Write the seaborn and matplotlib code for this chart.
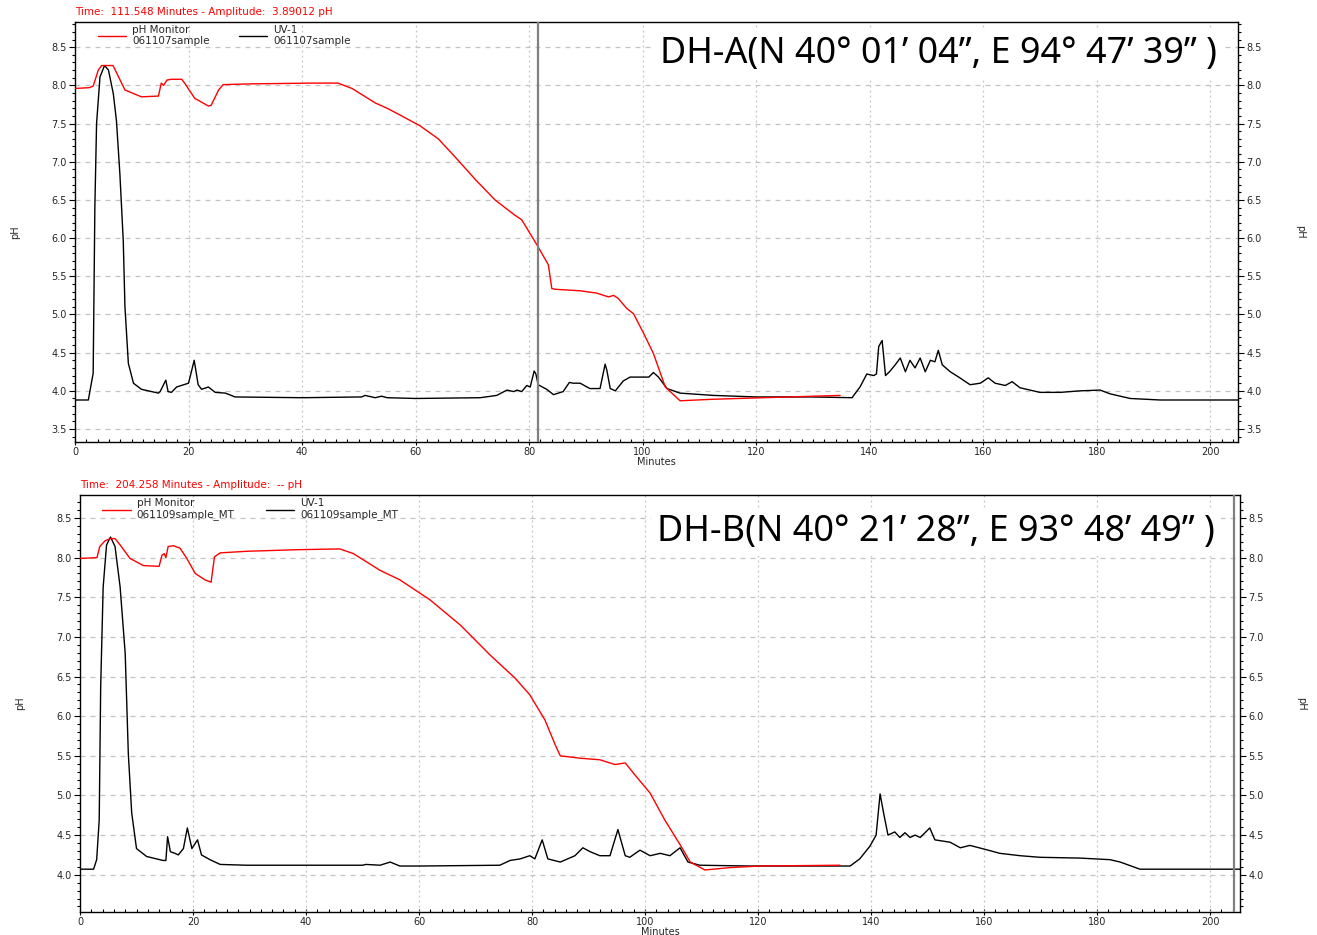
import os
import matplotlib
matplotlib.use("Agg")
import matplotlib.pyplot as plt
import matplotlib.ticker as mticker
from matplotlib import font_manager
import seaborn as sns
import pandas as pd

# ---------------- data ----------------
# Panel A (DH-A) pH monitor trace
a_ph_t = [0, 2.5, 3.2, 4.1, 4.7, 6.7, 8.8, 11.7, 14.7, 15.2, 15.6, 16.2, 17.0, 18.8, 19.4, 21.1,
          23.5, 24.0, 25.3, 26.1, 31.1, 42, 46.3, 48.8, 52.9, 55.0, 57.3, 60.8, 64.0, 67.0, 70.5,
          74.0, 77.5, 78.7, 81.4, 83.4, 84.0, 84.6, 89.0, 91.9, 94.0, 94.9, 95.7, 97.2, 98.4,
          100.2, 101.9, 104.0, 106.6, 112.5, 121.3, 134.8]
a_ph_v = [7.96, 7.97, 7.99, 8.2, 8.26, 8.26, 7.94, 7.85, 7.86, 8.03, 8.0, 8.07, 8.08, 8.08, 8.02, 7.83,
          7.73, 7.74, 7.94, 8.01, 8.02, 8.03, 8.03, 7.96, 7.77, 7.7, 7.61, 7.47, 7.3, 7.06, 6.77,
          6.5, 6.3, 6.24, 5.91, 5.65, 5.34, 5.33, 5.31, 5.28, 5.23, 5.25, 5.21, 5.08, 5.01,
          4.75, 4.49, 4.05, 3.87, 3.89, 3.91, 3.94]

# Panel A UV-1 trace
a_uv_t = [0, 2.35, 3.2, 3.5, 3.8, 4.4, 5.2, 5.9, 6.75, 7.3, 7.9, 8.5, 8.8, 9.4, 10.3, 11.7, 14.7, 15.0,
          16.0, 16.4, 17.0, 17.9, 20.0, 21.0, 21.7, 22.3, 23.5, 24.7, 26.5, 28.2, 40, 50.5, 51.1,
          52.9, 54.0, 55.0, 60, 71.4, 74.3, 76.1, 77.3, 77.9, 78.7, 79.6, 80.2, 80.9, 81.2, 81.6,
          83.1, 84.3, 86.0, 87.1, 87.8, 89.0, 90.7, 92.5, 93.4, 93.7, 94.3, 95.2, 96.6, 97.8,
          100.2, 101.1, 101.9, 102.8, 104.3, 106.6, 112.5, 120, 130, 136.9, 138.3, 139.5, 140.7,
          141.2, 141.6, 142.2, 142.8, 143.5, 144.5, 145.4, 146.3, 147.1, 148.0, 148.9, 149.8,
          150.7, 151.5, 152.1, 152.8, 154.2, 155.9, 157.7, 159.5, 160.9, 162.1, 163.9, 165.1,
          166.5, 170, 173.6, 177.1, 180.6, 182.4, 185.9, 191.2, 205]
a_uv_v = [3.88, 3.88, 4.23, 6.41, 7.5, 8.11, 8.26, 8.2, 7.89, 7.54, 6.85, 5.97, 5.1, 4.36, 4.1, 4.02,
          3.97, 3.99, 4.14, 3.99, 3.98, 4.05, 4.1, 4.4, 4.08, 4.02, 4.05, 3.98, 3.97, 3.92, 3.91,
          3.92, 3.94, 3.91, 3.93, 3.91, 3.9, 3.91, 3.94, 4.01, 3.99, 4.01, 3.99, 4.07, 4.05, 4.26,
          4.22, 4.08, 4.02, 3.95, 3.99, 4.11, 4.1, 4.1, 4.03, 4.03, 4.35, 4.27, 4.03, 4.0, 4.13,
          4.18, 4.18, 4.18, 4.24, 4.18, 4.03, 3.97, 3.94, 3.92, 3.92, 3.91, 4.05, 4.22, 4.2, 4.22,
          4.58, 4.66, 4.2, 4.25, 4.34, 4.43, 4.25, 4.4, 4.3, 4.43, 4.25, 4.4, 4.38, 4.53, 4.34,
          4.25, 4.17, 4.08, 4.1, 4.17, 4.1, 4.07, 4.12, 4.04, 3.98, 3.98, 4.0, 4.01, 3.96, 3.9,
          3.88, 3.88]

# Panel B (DH-B) pH monitor trace
b_ph_t = [0, 3.0, 3.5, 4.4, 5.3, 6.2, 7.1, 8.85, 11.2, 14.0, 14.5, 14.9, 15.2, 15.6, 16.5, 17.7,
          18.9, 20.4, 22.1, 23.2, 23.8, 24.8, 29.5, 38.4, 46.0, 48.4, 53.1, 56.6, 61.9, 67.3,
          72.6, 77.0, 79.6, 82.3, 84.1, 85.0, 88.5, 92.0, 94.7, 96.5, 98.2, 100.9, 103.5, 106.2,
          108.0, 110.6, 115.0, 120.4, 134.5]
b_ph_v = [7.99, 8.0, 8.14, 8.21, 8.24, 8.24, 8.16, 7.99, 7.9, 7.89, 8.03, 8.05, 8.0, 8.14, 8.15, 8.12,
          7.99, 7.8, 7.72, 7.69, 8.01, 8.06, 8.08, 8.1, 8.11, 8.05, 7.84, 7.72, 7.47, 7.15,
          6.77, 6.48, 6.27, 5.95, 5.64, 5.5, 5.47, 5.45, 5.39, 5.41, 5.26, 5.03, 4.69, 4.38,
          4.16, 4.06, 4.09, 4.11, 4.12]

# Panel B UV-1 trace
b_uv_t = [0, 2.4, 2.95, 3.4, 3.66, 4.1, 4.7, 5.4, 6.2, 7.1, 8.0, 8.55, 9.15, 10.0, 11.8, 14.7, 15.2,
          15.5, 16.0, 16.8, 17.4, 18.3, 19.0, 19.8, 20.8, 21.5, 23.0, 24.8, 29.5, 50.0, 50.6,
          53.1, 54.9, 56.6, 60.2, 74.3, 76.1, 77.9, 79.6, 80.5, 81.8, 82.8, 85.0, 87.6, 89.0,
          90.3, 92.0, 93.8, 95.2, 96.5, 97.3, 99.1, 100.9, 102.7, 104.4, 106.2, 107.6, 109.7,
          118.6, 136.3, 138.0, 139.8, 140.9, 141.6, 142.3, 143.0, 144.2, 145.1, 146.0, 146.9,
          147.8, 148.7, 150.4, 151.3, 154.0, 155.8, 157.5, 160.2, 162.8, 166.4, 169.9, 177.0,
          182.3, 184.1, 187.6, 205.3]
b_uv_v = [4.07, 4.07, 4.19, 4.69, 6.37, 7.63, 8.16, 8.26, 8.14, 7.63, 6.79, 5.53, 4.78, 4.33, 4.23,
          4.18, 4.18, 4.48, 4.29, 4.27, 4.25, 4.33, 4.59, 4.33, 4.44, 4.25, 4.19, 4.13, 4.12,
          4.12, 4.13, 4.12, 4.16, 4.11, 4.11, 4.12, 4.18, 4.2, 4.24, 4.2, 4.44, 4.2, 4.16, 4.24,
          4.34, 4.29, 4.24, 4.24, 4.57, 4.24, 4.22, 4.31, 4.24, 4.27, 4.24, 4.34, 4.16, 4.12,
          4.11, 4.11, 4.2, 4.36, 4.5, 5.02, 4.75, 4.5, 4.54, 4.47, 4.53, 4.47, 4.5, 4.47, 4.59,
          4.44, 4.41, 4.34, 4.37, 4.32, 4.27, 4.24, 4.22, 4.21, 4.19, 4.16, 4.07, 4.07]

panel_titles = ["DH-A(N 40° 01’ 04”, E 94° 47’ 39” )",
                "DH-B(N 40° 21’ 28”, E 93° 48’ 49” )"]
header_texts = ["Time:  111.548 Minutes - Amplitude:  3.89012 pH",
                "Time:  204.258 Minutes - Amplitude:  -- pH"]
ph_labels = ["pH Monitor\n061107sample", "pH Monitor\n061109sample_MT"]
uv_labels = ["UV-1\n061107sample", "UV-1\n061109sample_MT"]
cursor_times = [81.6, 204.26]
y_ticks = [[3.5, 4.0, 4.5, 5.0, 5.5, 6.0, 6.5, 7.0, 7.5, 8.0, 8.5],
           [4.0, 4.5, 5.0, 5.5, 6.0, 6.5, 7.0, 7.5, 8.0, 8.5]]
x_ticks = [0, 20, 40, 60, 80, 100, 120, 140, 160, 180, 200]

# ---------------- style ----------------
sns.set_theme(style="white")
plt.rcParams["font.family"] = ["DejaVu Sans"]
plt.rcParams["axes.edgecolor"] = "black"
plt.rcParams["axes.linewidth"] = 1.0

# narrowest installed Noto Sans face for the big site labels
big_font = None
for pref in ["NotoSans-ExtraCondensed.ttf", "NotoSans-Condensed.ttf",
             "NotoSans-SemiCondensed.ttf"]:
    for f in font_manager.fontManager.ttflist:
        if os.path.basename(f.fname) == pref:
            big_font = f.fname
            break
    if big_font:
        break
if big_font:
    big_fp = font_manager.FontProperties(fname=big_font)
else:
    big_fp = font_manager.FontProperties(family=["Noto Sans", "DejaVu Sans"],
                                         stretch="condensed")

W, H = 1317, 935
fig = plt.figure(figsize=(W / 100, H / 100), dpi=100)

# axes boxes in pixels: left, top, right, bottom
boxes = [(75, 22, 1238, 442), (80, 495, 1240, 912)]
ylims = [(3.33, 8.83), (3.53, 8.79)]
xlims = [(0, 204.9), (0, 205.3)]
big_pos = [(0.7425, 0.924), (0.738, 0.911)]
big_width_px = [557, 558]
leg_spacing = [2.8, 3.0]

series = [(a_ph_t, a_ph_v, a_uv_t, a_uv_v), (b_ph_t, b_ph_v, b_uv_t, b_uv_v)]
grid_c = "#c4c4c4"
big_texts = []

for i in range(2):
    l, t, r, b = boxes[i]
    ax = fig.add_axes([l / W, 1 - b / H, (r - l) / W, (b - t) / H])
    ph_t, ph_v, uv_t, uv_v = series[i]
    df_ph = pd.DataFrame({"Minutes": ph_t, "pH": ph_v})
    df_uv = pd.DataFrame({"Minutes": uv_t, "pH": uv_v})
    sns.lineplot(data=df_uv, x="Minutes", y="pH", ax=ax, color="black", lw=1.0,
                 estimator=None, sort=False, label=uv_labels[i], zorder=3)
    sns.lineplot(data=df_ph, x="Minutes", y="pH", ax=ax, color="#ff0000", lw=1.0,
                 estimator=None, sort=False, label=ph_labels[i], zorder=4)

    ax.set_xlim(*xlims[i])
    ax.set_ylim(*ylims[i])
    ax.set_xticks(x_ticks)
    ax.set_yticks(y_ticks[i])
    ax.xaxis.set_minor_locator(mticker.MultipleLocator(2))
    ax.yaxis.set_minor_locator(mticker.MultipleLocator(0.1))
    ax.yaxis.set_major_formatter(mticker.FormatStrFormatter("%.1f"))

    # gridlines
    for yv in y_ticks[i]:
        ax.axhline(yv, color=grid_c, lw=0.9, ls=(0, (4, 4)), zorder=1)
    for xv in x_ticks[1:]:
        ax.axvline(xv, color=grid_c, lw=0.9, ls=(0, (1.5, 2.5)), zorder=1)

    # cursor line
    ax.axvline(cursor_times[i], color="#808080", lw=1.6, zorder=5)

    ax.tick_params(axis="y", which="both", left=True, right=True, labelleft=True,
                   labelright=True, direction="out", labelsize=7, pad=2, color="black")
    ax.tick_params(axis="y", which="major", length=4, width=0.8)
    ax.tick_params(axis="y", which="minor", length=2.5, width=0.8)
    ax.tick_params(axis="x", which="major", bottom=True, direction="inout", length=5,
                   width=0.8, labelsize=7, pad=1, color="black")
    ax.tick_params(axis="x", which="minor", bottom=True, direction="in", length=2.5,
                   width=0.8, color="black")
    for s in ax.spines.values():
        s.set_color("black")
        s.set_linewidth(1.0)

    ax.set_xlabel("Minutes", fontsize=7, labelpad=0)
    ax.set_ylabel("pH", fontsize=7)
    ax.yaxis.set_label_coords(-0.047, 0.5)
    ax.text(1.053, 0.5, "pH", transform=ax.transAxes, rotation=270, fontsize=7,
            ha="center", va="center")

    # legend (pH monitor first, then UV-1)
    handles, labels = ax.get_legend_handles_labels()
    order = [1, 0]
    ax.legend([handles[k] for k in order], [labels[k] for k in order], ncol=2,
              loc="upper left", bbox_to_anchor=(0.014, 1.008), frameon=False, fontsize=7.5,
              handlelength=2.7, columnspacing=leg_spacing[i], labelspacing=0.0,
              borderaxespad=0.2, handletextpad=0.6)

    # header text
    fig.text(l / W, 1 - (t - 10) / H, header_texts[i], color="#ff0000", fontsize=7.5,
             ha="left", va="center")

    # big site label
    bt = ax.text(big_pos[i][0], big_pos[i][1], panel_titles[i], transform=ax.transAxes,
                 fontproperties=big_fp, ha="center", va="center", color="black", zorder=6,
                 bbox=dict(facecolor="white", edgecolor="none", pad=2))
    bt.set_fontsize(30)
    big_texts.append(bt)

# fit the big labels to the width they take in the reference
fig.canvas.draw()
renderer = fig.canvas.get_renderer()
for i, bt in enumerate(big_texts):
    for _ in range(2):
        w = bt.get_window_extent(renderer).width
        bt.set_fontsize(bt.get_fontsize() * big_width_px[i] / w)
        fig.canvas.draw()

fig.savefig("out.png", dpi=100)
